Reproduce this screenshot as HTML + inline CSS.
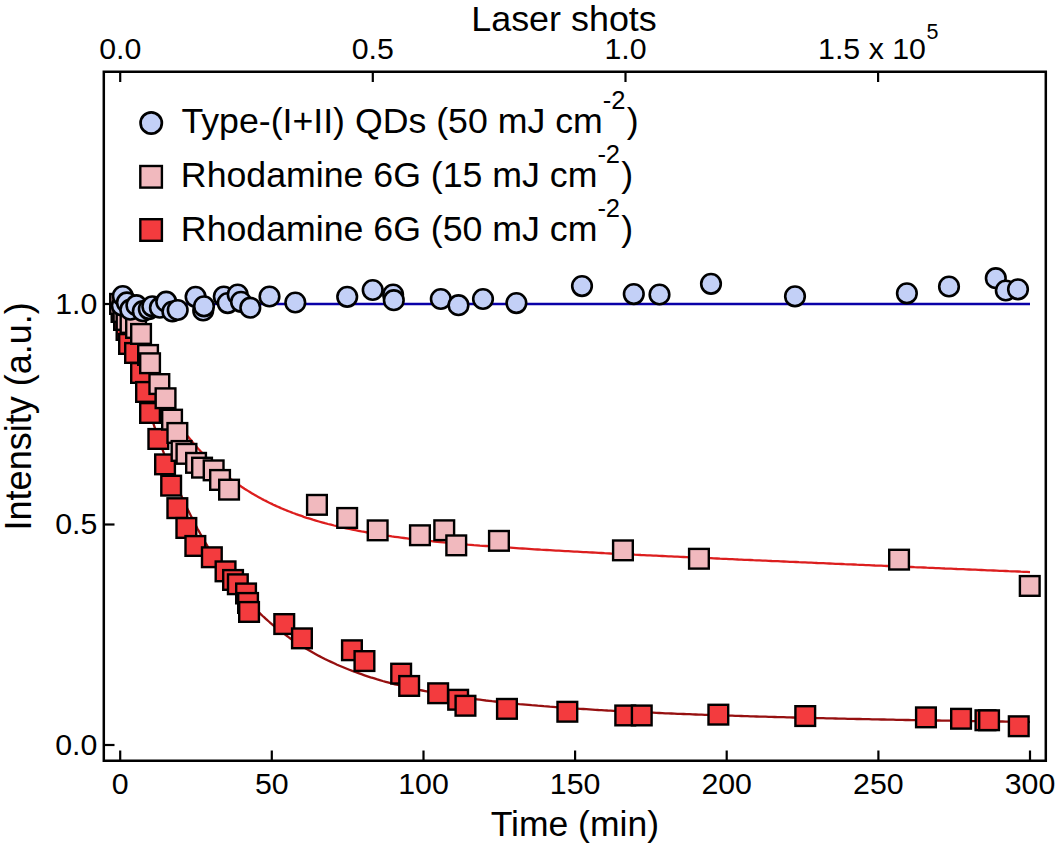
<!DOCTYPE html>
<html><head><meta charset="utf-8"><style>
html,body{margin:0;padding:0;background:#fff;}
svg{display:block;}
text{font-family:"Liberation Sans",sans-serif;fill:#000;}
.p{fill:#f1b9be;stroke:#000;stroke-width:2.4;}
.r{fill:#f33b3e;stroke:#000;stroke-width:2.4;}
.b{fill:#c3d0f7;stroke:#000;stroke-width:2.6;}
</style></head><body>
<svg width="1057" height="848" viewBox="0 0 1057 848">
<rect x="0" y="0" width="1057" height="848" fill="#fff"/>
<g stroke="#000" stroke-width="2.2" fill="none">
<path d="M103.8,71.8 H1045.8 V760.7 H103.8 Z" stroke-width="2.5"/>
<line x1="120.2" y1="760.5" x2="120.2" y2="750.5"/>
<line x1="271.8" y1="760.5" x2="271.8" y2="750.5"/>
<line x1="423.5" y1="760.5" x2="423.5" y2="750.5"/>
<line x1="575.1" y1="760.5" x2="575.1" y2="750.5"/>
<line x1="726.7" y1="760.5" x2="726.7" y2="750.5"/>
<line x1="878.4" y1="760.5" x2="878.4" y2="750.5"/>
<line x1="1030.0" y1="760.5" x2="1030.0" y2="750.5"/>
<line x1="120.2" y1="71.5" x2="120.2" y2="82"/>
<line x1="372.8" y1="71.5" x2="372.8" y2="82"/>
<line x1="625.5" y1="71.5" x2="625.5" y2="82"/>
<line x1="878.1" y1="71.5" x2="878.1" y2="82"/>
<line x1="104" y1="745.0" x2="114.5" y2="745.0"/>
<line x1="104" y1="524.5" x2="114.5" y2="524.5"/>
<line x1="104" y1="304.0" x2="114.5" y2="304.0"/>
</g>
<line x1="120.2" y1="304" x2="1030" y2="304" stroke="#0a00a8" stroke-width="2.4"/>
<path d="M120.2,304.0 L121.7,308.3 L123.2,312.6 L124.7,316.7 L126.3,320.8 L127.8,324.8 L129.3,328.7 L130.8,332.6 L132.3,336.4 L133.8,340.1 L135.4,343.7 L136.9,347.3 L138.4,350.8 L139.9,354.3 L141.4,357.7 L142.9,361.0 L144.5,364.2 L146.0,367.5 L147.5,370.6 L149.0,373.7 L150.5,376.7 L152.0,379.7 L153.6,382.6 L155.1,385.5 L156.6,388.3 L158.1,391.1 L159.6,393.8 L161.1,396.5 L162.7,399.1 L164.2,401.7 L165.7,404.2 L167.2,406.7 L168.7,409.1 L170.2,411.5 L171.8,413.9 L173.3,416.2 L174.8,418.5 L176.3,420.7 L177.8,422.9 L179.3,425.0 L180.9,427.1 L182.4,429.2 L183.9,431.2 L185.4,433.2 L186.9,435.2 L188.4,437.1 L190.0,439.0 L191.5,440.8 L193.0,442.7 L194.5,444.5 L196.0,446.2 L197.5,447.9 L199.0,449.6 L200.6,451.3 L202.1,452.9 L203.6,454.5 L205.1,456.1 L206.6,457.7 L208.1,459.2 L209.7,460.7 L211.2,462.2 L212.7,463.6 L214.2,465.0 L215.7,466.4 L217.2,467.8 L218.8,469.1 L220.3,470.4 L221.8,471.7 L223.3,473.0 L224.8,474.3 L226.3,475.5 L227.9,476.7 L229.4,477.9 L230.9,479.1 L232.4,480.2 L233.9,481.3 L235.4,482.4 L237.0,483.5 L238.5,484.6 L240.0,485.6 L241.5,486.7 L243.0,487.7 L244.5,488.7 L246.1,489.7 L247.6,490.6 L249.1,491.6 L250.6,492.5 L252.1,493.4 L253.6,494.3 L255.2,495.2 L256.7,496.1 L258.2,496.9 L259.7,497.7 L261.2,498.6 L262.7,499.4 L264.3,500.2 L265.8,500.9 L267.3,501.7 L268.8,502.5 L270.3,503.2 L271.8,503.9 L273.3,504.7 L274.9,505.4 L276.4,506.1 L277.9,506.7 L279.4,507.4 L280.9,508.1 L282.4,508.7 L284.0,509.4 L285.5,510.0 L287.0,510.6 L288.5,511.2 L290.0,511.8 L291.5,512.4 L293.1,513.0 L294.6,513.5 L296.1,514.1 L297.6,514.6 L299.1,515.2 L300.6,515.7 L302.2,516.2 L303.7,516.8 L306.7,517.8 L309.8,518.7 L312.8,519.7 L315.8,520.6 L318.9,521.5 L321.9,522.3 L324.9,523.2 L328.0,524.0 L331.0,524.7 L334.1,525.5 L337.1,526.2 L340.1,526.9 L343.2,527.6 L346.2,528.3 L349.3,529.0 L352.3,529.6 L355.3,530.2 L358.4,530.8 L361.4,531.4 L364.5,531.9 L367.5,532.5 L370.5,533.0 L373.6,533.5 L376.6,534.0 L379.7,534.5 L382.7,535.0 L385.7,535.5 L388.8,535.9 L391.8,536.4 L394.8,536.8 L397.9,537.2 L400.9,537.6 L404.0,538.0 L407.0,538.4 L410.0,538.8 L413.1,539.1 L416.1,539.5 L419.2,539.9 L422.2,540.2 L425.2,540.5 L428.3,540.9 L431.3,541.2 L434.4,541.5 L437.4,541.8 L440.4,542.1 L443.5,542.4 L446.5,542.7 L449.5,543.0 L452.6,543.3 L455.6,543.5 L458.7,543.8 L461.7,544.1 L464.7,544.3 L467.8,544.6 L470.8,544.8 L473.9,545.1 L476.9,545.3 L479.9,545.6 L483.0,545.8 L486.0,546.0 L489.1,546.2 L492.1,546.5 L495.1,546.7 L498.2,546.9 L501.2,547.1 L504.3,547.3 L507.3,547.5 L510.3,547.7 L513.4,547.9 L516.4,548.1 L519.4,548.3 L522.5,548.5 L525.5,548.7 L528.6,548.9 L531.6,549.1 L534.6,549.3 L537.7,549.5 L540.7,549.7 L543.8,549.8 L546.8,550.0 L549.8,550.2 L552.9,550.4 L555.9,550.6 L559.0,550.7 L562.0,550.9 L565.0,551.1 L568.1,551.2 L571.1,551.4 L574.1,551.6 L577.2,551.7 L580.2,551.9 L583.3,552.1 L586.3,552.2 L589.3,552.4 L592.4,552.5 L595.4,552.7 L598.5,552.9 L601.5,553.0 L604.5,553.2 L607.6,553.3 L610.6,553.5 L613.7,553.6 L616.7,553.8 L619.7,553.9 L622.8,554.1 L625.8,554.2 L628.9,554.4 L631.9,554.5 L634.9,554.7 L638.0,554.8 L641.0,555.0 L644.0,555.1 L647.1,555.3 L650.1,555.4 L653.2,555.6 L656.2,555.7 L659.2,555.9 L662.3,556.0 L665.3,556.1 L668.4,556.3 L671.4,556.4 L674.4,556.6 L677.5,556.7 L680.5,556.9 L683.6,557.0 L686.6,557.1 L689.6,557.3 L692.7,557.4 L695.7,557.6 L698.7,557.7 L701.8,557.8 L704.8,558.0 L707.9,558.1 L710.9,558.2 L713.9,558.4 L717.0,558.5 L720.0,558.7 L723.1,558.8 L726.1,558.9 L729.1,559.1 L732.2,559.2 L735.2,559.3 L738.3,559.5 L741.3,559.6 L744.3,559.8 L747.4,559.9 L750.4,560.0 L753.4,560.2 L756.5,560.3 L759.5,560.4 L762.6,560.6 L765.6,560.7 L768.6,560.8 L771.7,561.0 L774.7,561.1 L777.8,561.2 L780.8,561.4 L783.8,561.5 L786.9,561.6 L789.9,561.8 L793.0,561.9 L796.0,562.0 L799.0,562.2 L802.1,562.3 L805.1,562.4 L808.2,562.6 L811.2,562.7 L814.2,562.8 L817.3,563.0 L820.3,563.1 L823.3,563.2 L826.4,563.4 L829.4,563.5 L832.5,563.6 L835.5,563.8 L838.5,563.9 L841.6,564.0 L844.6,564.2 L847.7,564.3 L850.7,564.4 L853.7,564.5 L856.8,564.7 L859.8,564.8 L862.9,564.9 L865.9,565.1 L868.9,565.2 L872.0,565.3 L875.0,565.5 L878.0,565.6 L881.1,565.7 L884.1,565.9 L887.2,566.0 L890.2,566.1 L893.2,566.2 L896.3,566.4 L899.3,566.5 L902.4,566.6 L905.4,566.8 L908.4,566.9 L911.5,567.0 L914.5,567.2 L917.6,567.3 L920.6,567.4 L923.6,567.5 L926.7,567.7 L929.7,567.8 L932.8,567.9 L935.8,568.1 L938.8,568.2 L941.9,568.3 L944.9,568.5 L947.9,568.6 L951.0,568.7 L954.0,568.8 L957.1,569.0 L960.1,569.1 L963.1,569.2 L966.2,569.4 L969.2,569.5 L972.3,569.6 L975.3,569.7 L978.3,569.9 L981.4,570.0 L984.4,570.1 L987.5,570.3 L990.5,570.4 L993.5,570.5 L996.6,570.6 L999.6,570.8 L1002.6,570.9 L1005.7,571.0 L1008.7,571.2 L1011.8,571.3 L1014.8,571.4 L1017.8,571.5 L1020.9,571.7 L1023.9,571.8 L1027.0,571.9 L1030.0,572.1" stroke="#dc1e1e" stroke-width="2.3" fill="none"/>
<path d="M120.2,304.1 L121.7,310.6 L123.2,316.9 L124.7,323.2 L126.3,329.3 L127.8,335.4 L129.3,341.3 L130.8,347.2 L132.3,352.9 L133.8,358.6 L135.4,364.1 L136.9,369.6 L138.4,375.0 L139.9,380.3 L141.4,385.5 L142.9,390.6 L144.5,395.7 L146.0,400.6 L147.5,405.5 L149.0,410.3 L150.5,415.0 L152.0,419.6 L153.6,424.2 L155.1,428.7 L156.6,433.1 L158.1,437.5 L159.6,441.7 L161.1,445.9 L162.7,450.1 L164.2,454.1 L165.7,458.1 L167.2,462.1 L168.7,465.9 L170.2,469.7 L171.8,473.5 L173.3,477.2 L174.8,480.8 L176.3,484.4 L177.8,487.9 L179.3,491.3 L180.9,494.7 L182.4,498.1 L183.9,501.4 L185.4,504.6 L186.9,507.8 L188.4,510.9 L190.0,514.0 L191.5,517.0 L193.0,520.0 L194.5,522.9 L196.0,525.8 L197.5,528.7 L199.0,531.4 L200.6,534.2 L202.1,536.9 L203.6,539.6 L205.1,542.2 L206.6,544.7 L208.1,547.3 L209.7,549.8 L211.2,552.2 L212.7,554.6 L214.2,557.0 L215.7,559.4 L217.2,561.7 L218.8,563.9 L220.3,566.1 L221.8,568.3 L223.3,570.5 L224.8,572.6 L226.3,574.7 L227.9,576.8 L229.4,578.8 L230.9,580.8 L232.4,582.7 L233.9,584.7 L235.4,586.6 L237.0,588.4 L238.5,590.3 L240.0,592.1 L241.5,593.8 L243.0,595.6 L244.5,597.3 L246.1,599.0 L247.6,600.7 L249.1,602.3 L250.6,604.0 L252.1,605.5 L253.6,607.1 L255.2,608.7 L256.7,610.2 L258.2,611.7 L259.7,613.1 L261.2,614.6 L262.7,616.0 L264.3,617.4 L265.8,618.8 L267.3,620.2 L268.8,621.5 L270.3,622.8 L271.8,624.1 L273.3,625.4 L274.9,626.7 L276.4,627.9 L277.9,629.1 L279.4,630.3 L280.9,631.5 L282.4,632.7 L284.0,633.8 L285.5,634.9 L287.0,636.0 L288.5,637.1 L290.0,638.2 L291.5,639.3 L293.1,640.3 L294.6,641.3 L296.1,642.4 L297.6,643.4 L299.1,644.3 L300.6,645.3 L302.2,646.3 L303.7,647.2 L306.7,649.0 L309.8,650.8 L312.8,652.5 L315.8,654.2 L318.9,655.9 L321.9,657.4 L324.9,659.0 L328.0,660.5 L331.0,661.9 L334.1,663.3 L337.1,664.7 L340.1,666.0 L343.2,667.3 L346.2,668.5 L349.3,669.7 L352.3,670.9 L355.3,672.0 L358.4,673.1 L361.4,674.2 L364.5,675.3 L367.5,676.3 L370.5,677.3 L373.6,678.2 L376.6,679.2 L379.7,680.1 L382.7,681.0 L385.7,681.8 L388.8,682.6 L391.8,683.5 L394.8,684.3 L397.9,685.0 L400.9,685.8 L404.0,686.5 L407.0,687.2 L410.0,687.9 L413.1,688.6 L416.1,689.2 L419.2,689.9 L422.2,690.5 L425.2,691.1 L428.3,691.7 L431.3,692.2 L434.4,692.8 L437.4,693.4 L440.4,693.9 L443.5,694.4 L446.5,694.9 L449.5,695.4 L452.6,695.9 L455.6,696.4 L458.7,696.8 L461.7,697.3 L464.7,697.7 L467.8,698.1 L470.8,698.5 L473.9,698.9 L476.9,699.3 L479.9,699.7 L483.0,700.1 L486.0,700.5 L489.1,700.8 L492.1,701.2 L495.1,701.5 L498.2,701.9 L501.2,702.2 L504.3,702.5 L507.3,702.9 L510.3,703.2 L513.4,703.5 L516.4,703.8 L519.4,704.1 L522.5,704.3 L525.5,704.6 L528.6,704.9 L531.6,705.2 L534.6,705.4 L537.7,705.7 L540.7,705.9 L543.8,706.2 L546.8,706.4 L549.8,706.7 L552.9,706.9 L555.9,707.1 L559.0,707.4 L562.0,707.6 L565.0,707.8 L568.1,708.0 L571.1,708.2 L574.1,708.4 L577.2,708.6 L580.2,708.8 L583.3,709.0 L586.3,709.2 L589.3,709.4 L592.4,709.6 L595.4,709.8 L598.5,710.0 L601.5,710.1 L604.5,710.3 L607.6,710.5 L610.6,710.6 L613.7,710.8 L616.7,711.0 L619.7,711.1 L622.8,711.3 L625.8,711.4 L628.9,711.6 L631.9,711.7 L634.9,711.9 L638.0,712.0 L641.0,712.2 L644.0,712.3 L647.1,712.5 L650.1,712.6 L653.2,712.7 L656.2,712.9 L659.2,713.0 L662.3,713.1 L665.3,713.3 L668.4,713.4 L671.4,713.5 L674.4,713.6 L677.5,713.8 L680.5,713.9 L683.6,714.0 L686.6,714.1 L689.6,714.2 L692.7,714.4 L695.7,714.5 L698.7,714.6 L701.8,714.7 L704.8,714.8 L707.9,714.9 L710.9,715.0 L713.9,715.1 L717.0,715.2 L720.0,715.3 L723.1,715.4 L726.1,715.5 L729.1,715.6 L732.2,715.7 L735.2,715.8 L738.3,715.9 L741.3,716.0 L744.3,716.1 L747.4,716.2 L750.4,716.3 L753.4,716.4 L756.5,716.5 L759.5,716.6 L762.6,716.6 L765.6,716.7 L768.6,716.8 L771.7,716.9 L774.7,717.0 L777.8,717.1 L780.8,717.2 L783.8,717.2 L786.9,717.3 L789.9,717.4 L793.0,717.5 L796.0,717.6 L799.0,717.6 L802.1,717.7 L805.1,717.8 L808.2,717.9 L811.2,717.9 L814.2,718.0 L817.3,718.1 L820.3,718.2 L823.3,718.2 L826.4,718.3 L829.4,718.4 L832.5,718.4 L835.5,718.5 L838.5,718.6 L841.6,718.7 L844.6,718.7 L847.7,718.8 L850.7,718.9 L853.7,718.9 L856.8,719.0 L859.8,719.0 L862.9,719.1 L865.9,719.2 L868.9,719.2 L872.0,719.3 L875.0,719.4 L878.0,719.4 L881.1,719.5 L884.1,719.5 L887.2,719.6 L890.2,719.7 L893.2,719.7 L896.3,719.8 L899.3,719.8 L902.4,719.9 L905.4,720.0 L908.4,720.0 L911.5,720.1 L914.5,720.1 L917.6,720.2 L920.6,720.2 L923.6,720.3 L926.7,720.3 L929.7,720.4 L932.8,720.4 L935.8,720.5 L938.8,720.5 L941.9,720.6 L944.9,720.6 L947.9,720.7 L951.0,720.7 L954.0,720.8 L957.1,720.8 L960.1,720.9 L963.1,720.9 L966.2,721.0 L969.2,721.0 L972.3,721.1 L975.3,721.1 L978.3,721.2 L981.4,721.2 L984.4,721.3 L987.5,721.3 L990.5,721.4 L993.5,721.4 L996.6,721.4 L999.6,721.5 L1002.6,721.5 L1005.7,721.6 L1008.7,721.6 L1011.8,721.7 L1014.8,721.7 L1017.8,721.7 L1020.9,721.8 L1023.9,721.8 L1027.0,721.9 L1030.0,721.9" stroke="#961010" stroke-width="2.3" fill="none"/>
<rect class="r" x="110.3" y="294.1" width="19.7" height="19.7"/>
<rect class="r" x="111.7" y="302.1" width="19.7" height="19.7"/>
<rect class="r" x="114.2" y="310.1" width="19.7" height="19.7"/>
<rect class="r" x="116.7" y="320.1" width="19.7" height="19.7"/>
<rect class="r" x="119.2" y="334.1" width="19.7" height="19.7"/>
<rect class="r" x="125.2" y="343.1" width="19.7" height="19.7"/>
<rect class="r" x="131.2" y="363.1" width="19.7" height="19.7"/>
<rect class="r" x="136.2" y="382.1" width="19.7" height="19.7"/>
<rect class="r" x="140.2" y="403.1" width="19.7" height="19.7"/>
<rect class="r" x="148.5" y="429.1" width="19.7" height="19.7"/>
<rect class="r" x="155.2" y="454.5" width="19.7" height="19.7"/>
<rect class="r" x="161.3" y="475.8" width="19.7" height="19.7"/>
<rect class="r" x="167.5" y="498.3" width="19.7" height="19.7"/>
<rect class="r" x="176.5" y="518.1" width="19.7" height="19.7"/>
<rect class="r" x="185.5" y="536.1" width="19.7" height="19.7"/>
<rect class="r" x="202.0" y="547.4" width="19.7" height="19.7"/>
<rect class="r" x="215.7" y="561.5" width="19.7" height="19.7"/>
<rect class="r" x="223.2" y="570.1" width="19.7" height="19.7"/>
<rect class="r" x="228.0" y="574.4" width="19.7" height="19.7"/>
<rect class="r" x="236.2" y="583.6" width="19.7" height="19.7"/>
<rect class="r" x="238.2" y="593.1" width="19.7" height="19.7"/>
<rect class="r" x="239.2" y="602.1" width="19.7" height="19.7"/>
<rect class="r" x="274.4" y="614.2" width="19.7" height="19.7"/>
<rect class="r" x="292.1" y="628.5" width="19.7" height="19.7"/>
<rect class="r" x="342.1" y="640.4" width="19.7" height="19.7"/>
<rect class="r" x="354.6" y="651.2" width="19.7" height="19.7"/>
<rect class="r" x="391.3" y="663.8" width="19.7" height="19.7"/>
<rect class="r" x="399.3" y="676.1" width="19.7" height="19.7"/>
<rect class="r" x="428.3" y="683.4" width="19.7" height="19.7"/>
<rect class="r" x="448.3" y="689.9" width="19.7" height="19.7"/>
<rect class="r" x="455.6" y="695.9" width="19.7" height="19.7"/>
<rect class="r" x="497.1" y="699.0" width="19.7" height="19.7"/>
<rect class="r" x="557.5" y="701.9" width="19.7" height="19.7"/>
<rect class="r" x="615.4" y="705.6" width="19.7" height="19.7"/>
<rect class="r" x="631.9" y="705.6" width="19.7" height="19.7"/>
<rect class="r" x="708.5" y="704.8" width="19.7" height="19.7"/>
<rect class="r" x="795.4" y="706.2" width="19.7" height="19.7"/>
<rect class="r" x="916.1" y="707.5" width="19.7" height="19.7"/>
<rect class="r" x="951.2" y="708.9" width="19.7" height="19.7"/>
<rect class="r" x="975.6" y="710.4" width="19.7" height="19.7"/>
<rect class="r" x="979.2" y="710.4" width="19.7" height="19.7"/>
<rect class="r" x="1008.9" y="716.4" width="19.7" height="19.7"/>
<rect class="p" x="110.3" y="294.1" width="19.7" height="19.7"/>
<rect class="p" x="113.6" y="302.1" width="19.7" height="19.7"/>
<rect class="p" x="116.7" y="310.1" width="19.7" height="19.7"/>
<rect class="p" x="120.7" y="313.1" width="19.7" height="19.7"/>
<rect class="p" x="126.2" y="318.1" width="19.7" height="19.7"/>
<rect class="p" x="131.2" y="324.1" width="19.7" height="19.7"/>
<rect class="p" x="138.2" y="345.1" width="19.7" height="19.7"/>
<rect class="p" x="140.2" y="353.4" width="19.7" height="19.7"/>
<rect class="p" x="149.5" y="374.2" width="19.7" height="19.7"/>
<rect class="p" x="155.7" y="388.4" width="19.7" height="19.7"/>
<rect class="p" x="162.2" y="409.8" width="19.7" height="19.7"/>
<rect class="p" x="167.5" y="423.1" width="19.7" height="19.7"/>
<rect class="p" x="171.7" y="441.1" width="19.7" height="19.7"/>
<rect class="p" x="176.6" y="444.0" width="19.7" height="19.7"/>
<rect class="p" x="186.2" y="453.0" width="19.7" height="19.7"/>
<rect class="p" x="192.2" y="457.8" width="19.7" height="19.7"/>
<rect class="p" x="203.8" y="460.5" width="19.7" height="19.7"/>
<rect class="p" x="210.2" y="470.1" width="19.7" height="19.7"/>
<rect class="p" x="219.2" y="479.8" width="19.7" height="19.7"/>
<rect class="p" x="307.1" y="495.0" width="19.7" height="19.7"/>
<rect class="p" x="337.3" y="508.1" width="19.7" height="19.7"/>
<rect class="p" x="367.8" y="520.5" width="19.7" height="19.7"/>
<rect class="p" x="410.1" y="525.4" width="19.7" height="19.7"/>
<rect class="p" x="434.4" y="520.4" width="19.7" height="19.7"/>
<rect class="p" x="446.4" y="535.5" width="19.7" height="19.7"/>
<rect class="p" x="489.1" y="531.0" width="19.7" height="19.7"/>
<rect class="p" x="613.1" y="540.5" width="19.7" height="19.7"/>
<rect class="p" x="689.1" y="548.9" width="19.7" height="19.7"/>
<rect class="p" x="889.2" y="549.8" width="19.7" height="19.7"/>
<rect class="p" x="1019.9" y="576.1" width="19.7" height="19.7"/>
<circle class="b" cx="121.8" cy="305.5" r="9.80"/>
<circle class="b" cx="122.8" cy="296.0" r="9.80"/>
<circle class="b" cx="126.9" cy="302.4" r="9.80"/>
<circle class="b" cx="130.3" cy="309.7" r="9.80"/>
<circle class="b" cx="136.4" cy="305.2" r="9.80"/>
<circle class="b" cx="142.8" cy="311.2" r="9.80"/>
<circle class="b" cx="148.8" cy="309.1" r="9.80"/>
<circle class="b" cx="152.3" cy="306.3" r="9.80"/>
<circle class="b" cx="159.9" cy="307.7" r="9.80"/>
<circle class="b" cx="166.2" cy="301.7" r="9.80"/>
<circle class="b" cx="172.4" cy="311.5" r="9.80"/>
<circle class="b" cx="177.7" cy="310.0" r="9.80"/>
<circle class="b" cx="195.6" cy="296.8" r="9.80"/>
<circle class="b" cx="203.2" cy="310.4" r="9.80"/>
<circle class="b" cx="204.0" cy="306.3" r="9.80"/>
<circle class="b" cx="223.8" cy="296.5" r="9.80"/>
<circle class="b" cx="227.7" cy="303.1" r="9.80"/>
<circle class="b" cx="237.7" cy="294.5" r="9.80"/>
<circle class="b" cx="241.0" cy="301.8" r="9.80"/>
<circle class="b" cx="250.3" cy="307.7" r="9.80"/>
<circle class="b" cx="269.5" cy="296.5" r="9.80"/>
<circle class="b" cx="295.3" cy="302.5" r="9.80"/>
<circle class="b" cx="347.2" cy="296.8" r="9.80"/>
<circle class="b" cx="372.7" cy="290.0" r="9.80"/>
<circle class="b" cx="393.1" cy="294.5" r="9.80"/>
<circle class="b" cx="393.8" cy="300.2" r="9.80"/>
<circle class="b" cx="440.8" cy="299.0" r="9.80"/>
<circle class="b" cx="458.5" cy="305.2" r="9.80"/>
<circle class="b" cx="483.0" cy="299.0" r="9.80"/>
<circle class="b" cx="516.4" cy="303.1" r="9.80"/>
<circle class="b" cx="582.0" cy="286.1" r="9.80"/>
<circle class="b" cx="633.8" cy="294.1" r="9.80"/>
<circle class="b" cx="659.5" cy="294.5" r="9.80"/>
<circle class="b" cx="711.0" cy="283.8" r="9.80"/>
<circle class="b" cx="795.0" cy="296.3" r="9.80"/>
<circle class="b" cx="906.9" cy="293.3" r="9.80"/>
<circle class="b" cx="949.0" cy="286.5" r="9.80"/>
<circle class="b" cx="995.8" cy="278.2" r="9.80"/>
<circle class="b" cx="1005.8" cy="290.5" r="9.80"/>
<circle class="b" cx="1018.0" cy="289.3" r="9.80"/>
<text x="120.2" y="794" text-anchor="middle" font-size="30.3">0</text>
<text x="271.8" y="794" text-anchor="middle" font-size="30.3">50</text>
<text x="423.5" y="794" text-anchor="middle" font-size="30.3">100</text>
<text x="575.1" y="794" text-anchor="middle" font-size="30.3">150</text>
<text x="726.7" y="794" text-anchor="middle" font-size="30.3">200</text>
<text x="878.4" y="794" text-anchor="middle" font-size="30.3">250</text>
<text x="1030.0" y="794" text-anchor="middle" font-size="30.3">300</text>
<text x="120.2" y="59.3" text-anchor="middle" font-size="30.3">0.0</text>
<text x="372.8" y="59.3" text-anchor="middle" font-size="30.3">0.5</text>
<text x="625.5" y="59.3" text-anchor="middle" font-size="30.3">1.0</text>
<text x="820.4" y="59.3" font-size="30.3" dx="-2.3">1.5 x 10</text><text x="926.5" y="38.6" font-size="21.5">5</text>
<text x="97.3" y="754.6" text-anchor="end" font-size="30.3">0.0</text>
<text x="97.3" y="534.1" text-anchor="end" font-size="30.3">0.5</text>
<text x="97.3" y="313.6" text-anchor="end" font-size="30.3">1.0</text>
<text x="491.5" y="835.5" font-size="35.5" dx="-0.8">Time (min)</text>
<text x="474.2" y="31.2" font-size="35.9" dx="-2.94">Laser shots</text>
<text transform="translate(31.4,527.1) rotate(-90)" font-size="36" dx="-3.32">Intensity (a.u.)</text>
<circle cx="151.2" cy="123" r="10.65" fill="#c3d0f7" stroke="#000" stroke-width="2.7"/>
<rect x="140.3" y="166" width="21.6" height="21.6" class="p"/>
<rect x="140.3" y="219.2" width="21.6" height="21.6" class="r"/>
<text x="182.2" y="133.2" font-size="35.7" dx="-0.8">Type-(I+II) QDs (50 mJ cm<tspan dy="-24" font-size="25.5">-2</tspan><tspan dy="24" dx="1.2">)</tspan></text>
<text x="183.8" y="187.4" font-size="35.7" dx="-2.93">Rhodamine 6G (15 mJ cm<tspan dy="-24" font-size="25.5">-2</tspan><tspan dy="24" dx="1.2">)</tspan></text>
<text x="183.8" y="240.6" font-size="35.7" dx="-2.93">Rhodamine 6G (50 mJ cm<tspan dy="-24" font-size="25.5">-2</tspan><tspan dy="24" dx="1.2">)</tspan></text>
</svg>
</body></html>
